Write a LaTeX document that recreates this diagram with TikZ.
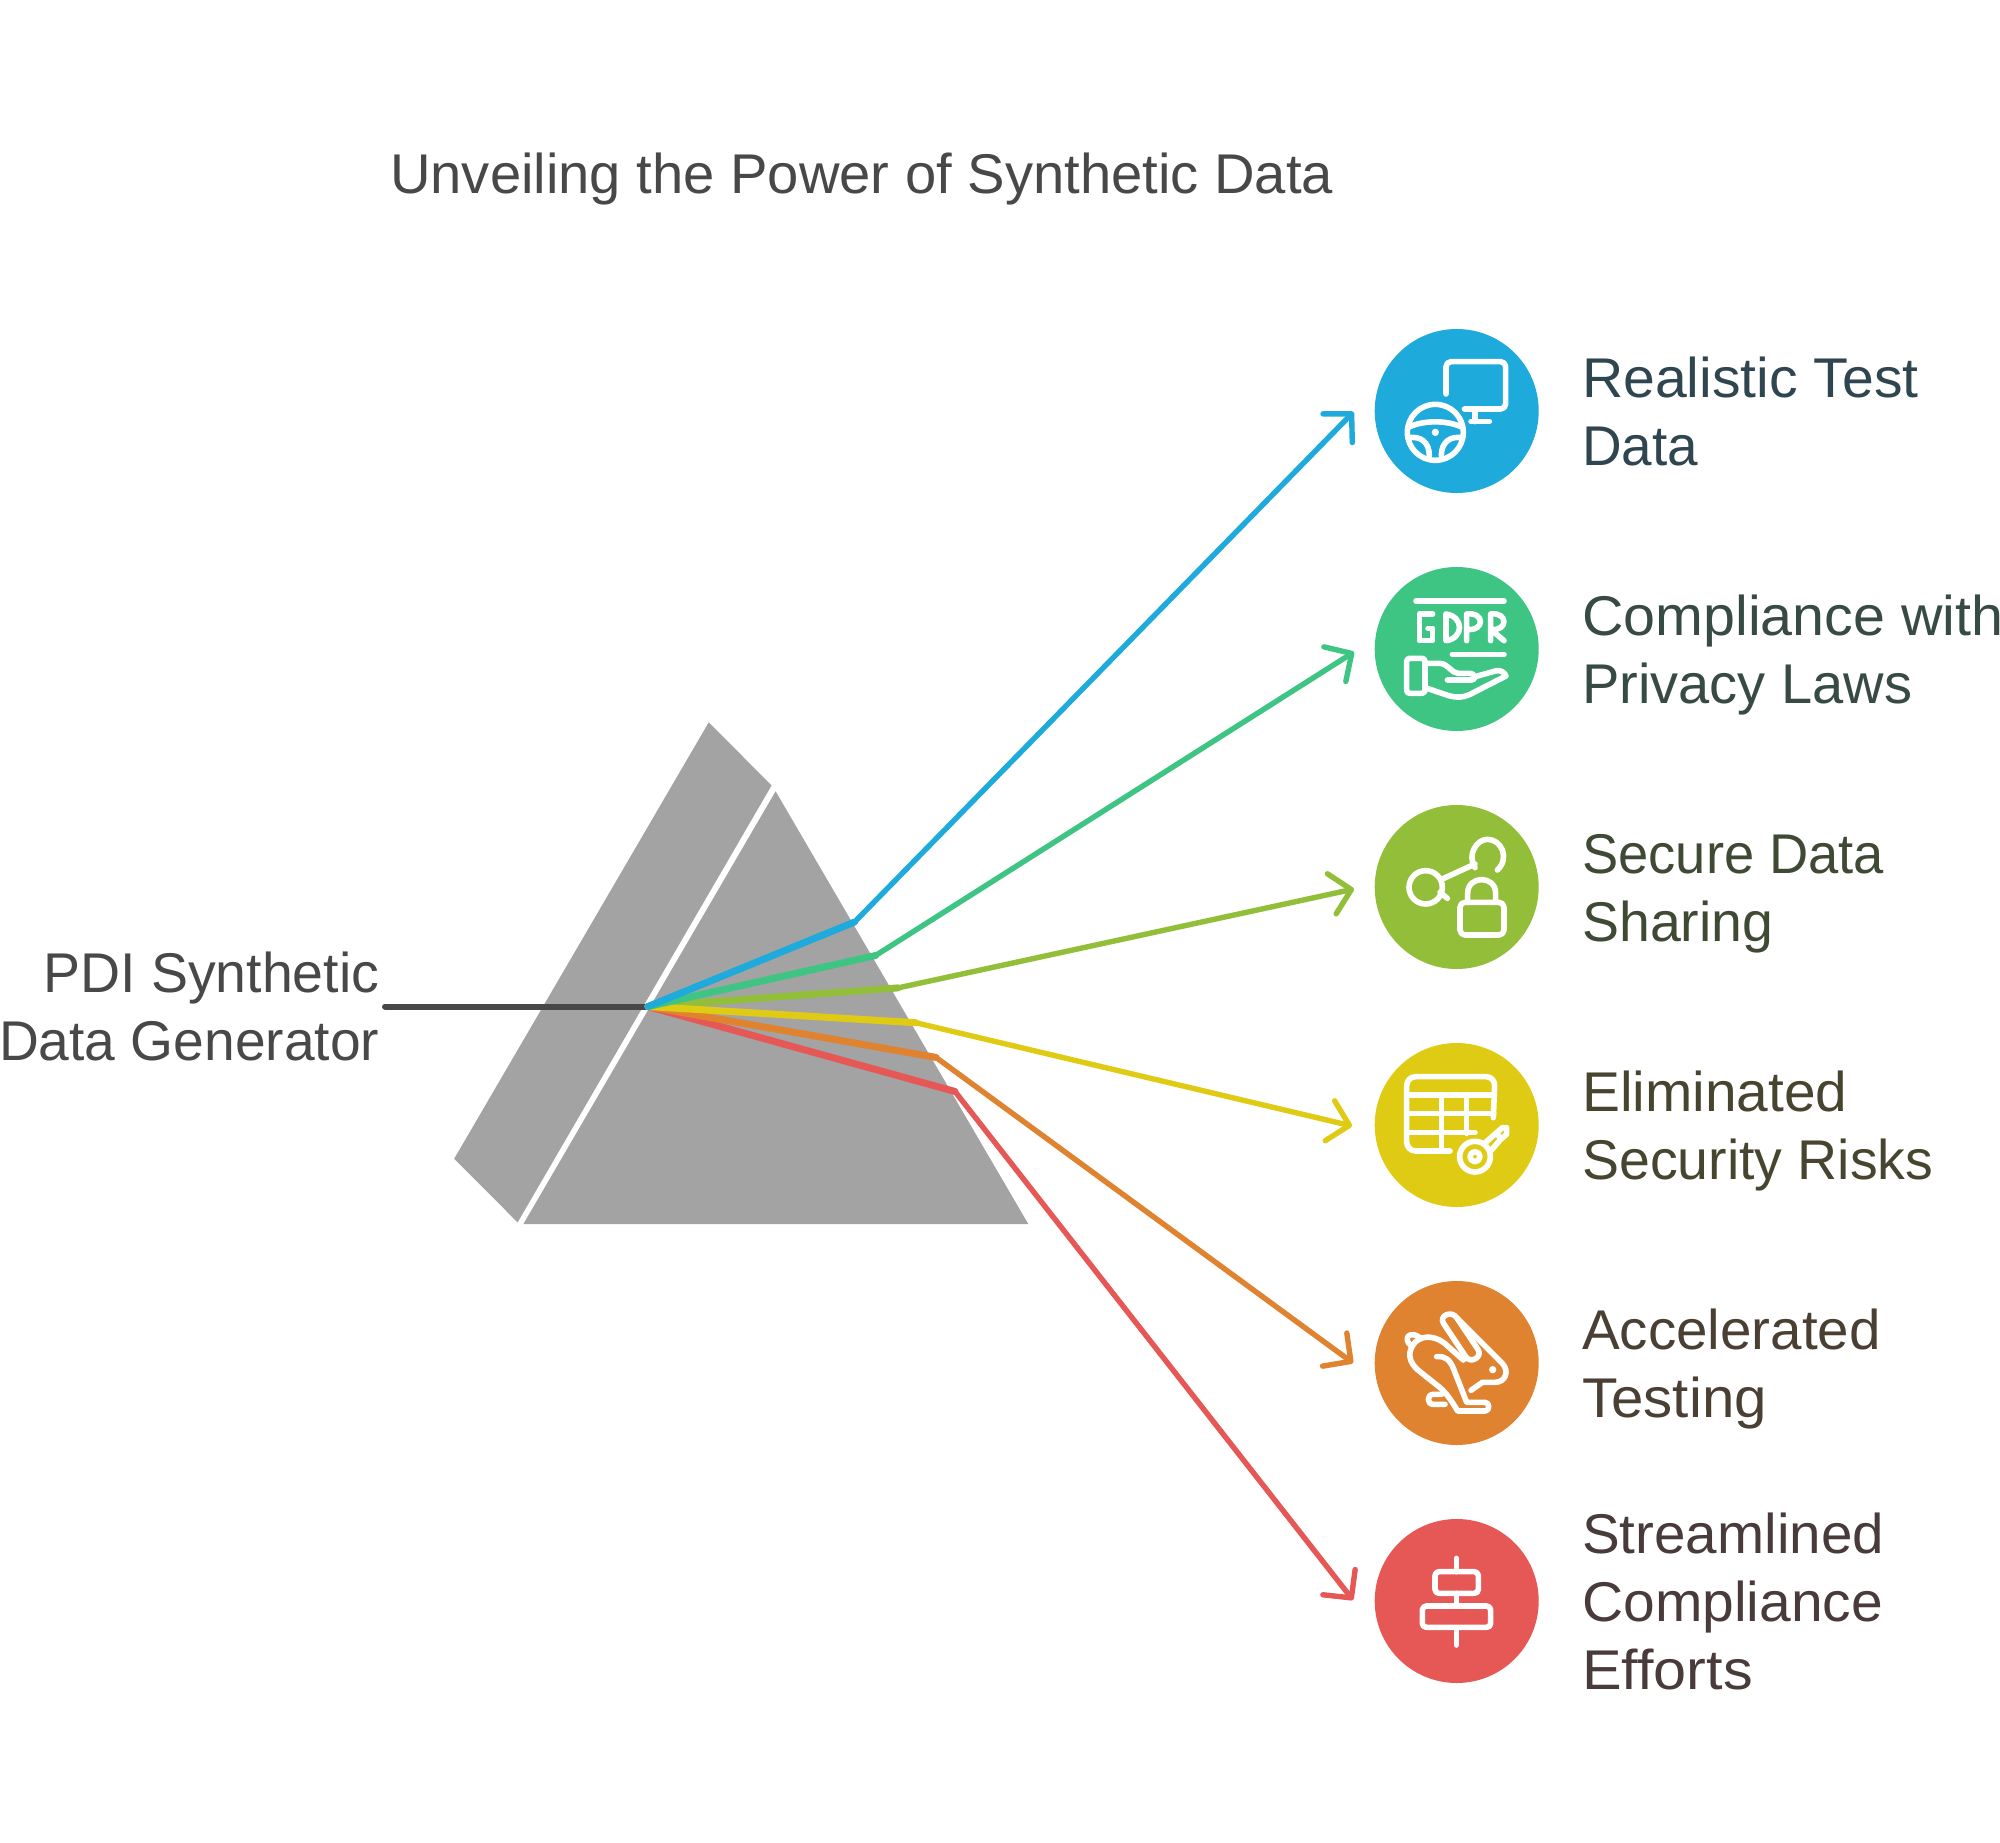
\documentclass[tikz,border=0pt]{standalone}
\usepackage{fontspec}
\setmainfont{Liberation Sans}
\usetikzlibrary{arrows.meta}
\newcommand\fs[2]{{\addfontfeature{FakeStretch=#1}#2}}
\definecolor{cblue}{HTML}{1EAADB}
\definecolor{cgreen}{HTML}{3EC483}
\definecolor{clime}{HTML}{93BE3A}
\definecolor{cyellow}{HTML}{DFCB13}
\definecolor{corange}{HTML}{DF8330}
\definecolor{cred}{HTML}{E65855}
\definecolor{prism}{HTML}{A3A3A3}
\definecolor{ink}{HTML}{484848}
\tikzset{
  x=1pt,y=-1pt,
  lbl/.style={anchor=base west,inner sep=0pt,align=left,font=\fontsize{56}{68}\selectfont},
  badge/.style={circle,minimum size=164pt,inner sep=0pt,fill=#1},
  ray/.style={line width=5.4pt,line join=round,#1,-{Straight Barb[length=20pt,width=41pt,round]}},
  inray/.style={line width=7pt,line cap=round,#1},
  ico/.style={white,line width=5.6pt,line cap=round,line join=round},
  zoomed/.style={x=0.33333pt,y=-0.33333pt}
}
\begin{document}
\begin{tikzpicture}
\useasboundingbox (0,0) rectangle (2000,1843);
\fill[white] (0,0) rectangle (2000,1843);
% title
\node[lbl,text=ink] (title) at (390,194) {\fs{1.003}{Unveiling the Power of Synthetic Data}};
% prism
\fill[prism] (708.7,722.4) -- (771.6,785.4) -- (517.6,1222.4) -- (454.2,1158.7) -- cycle;
\fill[prism] (775.6,791.3) -- (1028.3,1224) -- (523.4,1224) -- cycle;
% input
\coordinate (hub) at (648,1006.5);
\coordinate (src) at (385,1006.5);
\draw[line width=6pt,line cap=round,ink] (src) -- (hub);
\node[lbl,anchor=base east,align=right,text=ink] (pdi) at (379.5,1060.5) {\fs{0.99}{PDI Synthetic}\\\fs{0.985}{Data Generator}};
% badges
\node[badge=cblue]   (c1) at (1456.7,411) {};
\node[badge=cgreen]  (c2) at (1456.7,649) {};
\node[badge=clime]   (c3) at (1456.7,887) {};
\node[badge=cyellow] (c4) at (1456.7,1125) {};
\node[badge=corange] (c5) at (1456.7,1363) {};
\node[badge=cred]    (c6) at (1456.7,1601) {};
% bends and tips
\coordinate (b1) at (854.6,922);
\coordinate (b2) at (875.6,955.5);
\coordinate (b3) at (898,987.9);
\coordinate (b4) at (915.8,1022.7);
\coordinate (b5) at (936,1057.4);
\coordinate (b6) at (955,1091.5);
\coordinate (t1) at (1353.5,412);
\coordinate (t2) at (1354,652);
\coordinate (t3) at (1354,889);
\coordinate (t4) at (1352,1126);
\coordinate (t5) at (1353,1363);
\coordinate (t6) at (1353,1600);
\draw[inray=cred] (hub) -- (b6);
\draw[inray=corange] (hub) -- (b5);
\draw[inray=clime] (hub) -- (b3);
\draw[inray=cyellow] (hub) -- (b4);
\draw[inray=cgreen] (hub) -- (b2);
\draw[inray=cblue] (hub) -- (b1);
\draw[ray=cblue] (b1) -- (t1);
\draw[ray=cgreen] (b2) -- (t2);
\draw[ray=clime] (b3) -- (t3);
\draw[ray=cyellow] (b4) -- (t4);
\draw[ray=corange] (b5) -- (t5);
\draw[ray=cred] (b6) -- (t6);
% labels
\node[lbl,text={rgb,255:red,47;green,69;blue,80}] (l1) at (1582,465) {\fs{1.02}{Realistic Test}\\\fs{0.98}{Data}};
\node[lbl,text={rgb,255:red,55;green,74;blue,68}] (l2) at (1582,703) {\fs{1.025}{Compliance with}\\Privacy Laws};
\node[lbl,text={rgb,255:red,63;green,74;blue,53}] (l3) at (1582,941) {\fs{0.97}{Secure Data}\\\fs{0.99}{Sharing}};
\node[lbl,text={rgb,255:red,71;green,69;blue,47}] (l4) at (1582,1179) {\fs{1.015}{Eliminated}\\\fs{0.99}{Security Risks}};
\node[lbl,text={rgb,255:red,74;green,63;blue,51}] (l5) at (1582,1417) {\fs{1.01}{Accelerated}\\\fs{1.04}{Testing}};
\node[lbl,text={rgb,255:red,74;green,59;blue,59}] (l6) at (1582,1689) {\fs{1.01}{Streamlined}\\\fs{1.017}{Compliance}\\\fs{1.06}{Efforts}};
% icon 1
\begin{scope}[shift={(1340,310)},zoomed]
\draw[ico,rounded corners=5pt] (318,252) -- (318,155) -- (497,155) -- (497,297) -- (373,297);
\draw[ico] (405,297) -- (405,335) (393,335) -- (448,335);
\draw[ico] (286,367) circle[radius=84];
\draw[ico] (205,352) .. controls (250,330) and (322,330) .. (367,352);
\draw[ico] (207,383) .. controls (240,378) and (268,395) .. (268,437);
\draw[ico] (365,383) .. controls (332,378) and (304,395) .. (304,437);
\fill[white] (286,367) circle[radius=11];
% icon 2
\draw[ico] (228,873) -- (492,873);
\draw[ico] (278,912) -- (238,912) -- (238,992) -- (278,992) -- (278,955) -- (264,955);
\draw[ico] (318,912) -- (318,992) .. controls (372,985) and (372,920) .. (318,912);
\draw[ico] (380,992) -- (380,912) .. controls (435,905) and (435,965) .. (380,958);
\draw[ico] (452,992) -- (452,912) .. controls (505,905) and (505,965) .. (452,958) -- (492,992);
\draw[ico] (337,1033) -- (492,1033);
\draw[ico,rounded corners=3pt] (200,1045) rectangle (255,1150);
\draw[ico] (255,1060) -- (300,1060) .. controls (325,1062) and (335,1090) .. (355,1090) -- (390,1090) .. controls (405,1090) and (410,1110) .. (395,1110) -- (322,1110);
\draw[ico] (405,1100) -- (470,1082) .. controls (485,1080) and (495,1090) .. (498,1098) -- (400,1148) .. controls (375,1163) and (350,1165) .. (320,1155) -- (255,1133);
\end{scope}
% icon 3
\begin{scope}[shift={(1340,790)},zoomed]
\draw[ico] (257,292) circle[radius=50];
\draw[ico] (305,268) -- (405,222);
\draw[ico] (300,307) -- (322,325);
\draw[ico] (405,233) .. controls (380,195) and (410,148) .. (442,148) .. controls (485,148) and (510,205) .. (472,240);
\draw[ico,rounded corners=5pt] (360,337) rectangle (492,435);
\draw[ico] (383,337) -- (383,310) .. controls (383,255) and (467,255) .. (467,310) -- (467,337);
\end{scope}
% icon 4
\begin{scope}[shift={(1395,1065)},zoomed]
\draw[ico,rounded corners=9pt] (165,258) -- (35,258) -- (35,35) -- (300,35) -- (295,158);
\draw[ico] (35,90) -- (298,90) (35,145) -- (296,145) (35,202) -- (240,202);
\draw[ico] (140,90) -- (140,258) (215,90) -- (215,205);
\draw[ico] (240,275) circle[radius=46];
\draw[ico] (240,275) circle[radius=15];
\draw[ico] (272,232) -- (322,188) -- (335,188) -- (335,208) -- (318,222) -- (305,205) (318,222) -- (285,260);
\end{scope}
% icon 5
\begin{scope}[shift={(1395,1305)},zoomed]
\draw[ico] (250,135) -- (185,38) .. controls (170,15) and (130,32) .. (146,56) -- (212,155) .. controls (228,178) and (262,155) .. (250,135);
\draw[ico] (185,38) -- (322,175) .. controls (345,200) and (330,232) .. (300,232) -- (262,232) -- (228,256);
\draw[ico] (62,110) .. controls (85,90) and (125,90) .. (160,125) -- (205,165);
\draw[ico] (48,122) .. controls (22,100) and (45,75) .. (75,98);
\draw[ico] (62,110) .. controls (38,135) and (35,170) .. (75,200) -- (125,240) .. controls (150,258) and (165,280) .. (188,318) -- (270,318) .. controls (285,318) and (285,292) .. (270,292) -- (215,292) -- (175,190) .. controls (165,165) and (150,152) .. (125,155);
\draw[ico] (140,268) -- (115,268) .. controls (95,268) and (95,298) .. (115,298) -- (150,298);
\fill[white] (293,194) circle[radius=11];
\end{scope}
% icon 6
\begin{scope}[shift={(1340,1270)},zoomed]
\draw[ico] (349,865) -- (349,905) (349,970) -- (349,1008) (349,1075) -- (349,1125);
\draw[ico,rounded corners=4pt] (285,905) rectangle (415,970);
\draw[ico,rounded corners=4pt] (247,1008) rectangle (452,1072);
\end{scope}
\end{tikzpicture}
\end{document}
